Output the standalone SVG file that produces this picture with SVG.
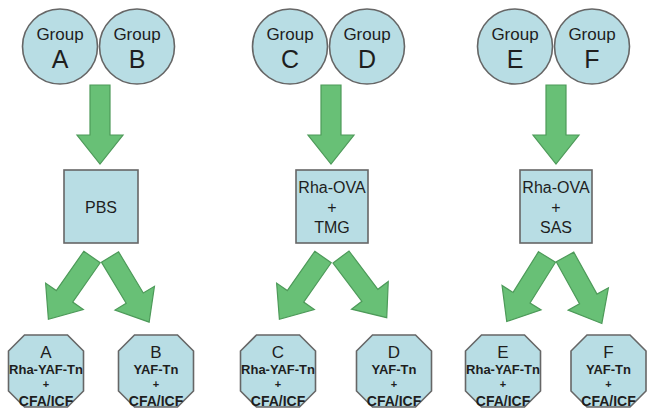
<svg xmlns="http://www.w3.org/2000/svg" xmlns:xlink="http://www.w3.org/1999/xlink" width="647" height="408" viewBox="0 0 647 408">
<style>
.n{fill:#b8dde4;stroke:#666;stroke-width:1.6}
.a{fill:#68c076;stroke:#4d9a59;stroke-width:1.2}
text{font-family:"Liberation Sans",Arial,sans-serif;fill:#1e1e1e;text-anchor:middle}
.g{font-size:17px}
.L{font-size:25px}
.b{font-size:16px}
.oL{font-size:17px}
.o{font-size:13px;font-weight:bold}
.c{font-size:14px;font-weight:bold}
.p{font-size:11px;font-weight:bold}
</style>
<defs>
<polygon id="varr" class="a" points="-10,0 10,0 10,50 23,50 0,79 -23,50 -10,50"/>
<polygon id="darr" class="a" points="-10,0 10,0 10,48 23,48 0,76 -23,48 -10,48"/>
<polygon id="oct" class="n" points="16,0 59,0 75,16 75,56 59,72 16,72 0,56 0,16"/>
</defs>
<rect width="647" height="408" fill="#fff"/>
<g id="connectors">
<use href="#varr" transform="translate(100,85)"/>
<use href="#varr" transform="translate(331,85)"/>
<use href="#varr" transform="translate(556,85)"/>
<use href="#darr" transform="translate(92,257) rotate(35)"/>
<use href="#darr" transform="translate(110,257) rotate(-31)"/>
<use href="#darr" transform="translate(323,257) rotate(35)"/>
<use href="#darr" transform="translate(341,257) rotate(-37)"/>
<use href="#darr" transform="translate(547,257) rotate(32)"/>
<use href="#darr" transform="translate(565,257) rotate(-29)"/>
</g>
<g id="groupA"><circle class="n" cx="60" cy="46.5" r="37.5"/><text class="g" x="60" y="40">Group</text><text class="L" x="60" y="68">A</text></g>
<g id="groupB"><circle class="n" cx="137" cy="46.5" r="37.5"/><text class="g" x="137" y="40">Group</text><text class="L" x="137" y="68">B</text></g>
<g id="groupC"><circle class="n" cx="290" cy="46.5" r="37.5"/><text class="g" x="290" y="40">Group</text><text class="L" x="290" y="68">C</text></g>
<g id="groupD"><circle class="n" cx="367" cy="46.5" r="37.5"/><text class="g" x="367" y="40">Group</text><text class="L" x="367" y="68">D</text></g>
<g id="groupE"><circle class="n" cx="515" cy="46.5" r="37.5"/><text class="g" x="515" y="40">Group</text><text class="L" x="515" y="68">E</text></g>
<g id="groupF"><circle class="n" cx="592" cy="46.5" r="37.5"/><text class="g" x="592" y="40">Group</text><text class="L" x="592" y="68">F</text></g>
<g id="pbs"><rect class="n" x="64" y="170" width="74" height="73"/><text class="b" x="101" y="213">PBS</text></g>
<g id="tmg"><rect class="n" x="296" y="170" width="72" height="73"/><text class="b" x="332" y="193">Rha-OVA</text><text class="b" x="332" y="213">+</text><text class="b" x="332" y="233">TMG</text></g>
<g id="sas"><rect class="n" x="520" y="170" width="72" height="73"/><text class="b" x="556" y="193">Rha-OVA</text><text class="b" x="556" y="213">+</text><text class="b" x="556" y="233">SAS</text></g>
<g id="outA"><use href="#oct" transform="translate(8.5,335)"/><text class="oL" x="46" y="358">A</text><text class="o" x="46" y="374">Rha-YAF-Tn</text><text class="p" x="46" y="388">+</text><text class="c" x="46" y="406">CFA/ICF</text></g>
<g id="outB"><use href="#oct" transform="translate(118.5,335)"/><text class="oL" x="156" y="358">B</text><text class="o" x="156" y="374">YAF-Tn</text><text class="p" x="156" y="388">+</text><text class="c" x="156" y="406">CFA/ICF</text></g>
<g id="outC"><use href="#oct" transform="translate(240.5,335)"/><text class="oL" x="278" y="358">C</text><text class="o" x="278" y="374">Rha-YAF-Tn</text><text class="p" x="278" y="388">+</text><text class="c" x="278" y="406">CFA/ICF</text></g>
<g id="outD"><use href="#oct" transform="translate(356.5,335)"/><text class="oL" x="394" y="358">D</text><text class="o" x="394" y="374">YAF-Tn</text><text class="p" x="394" y="388">+</text><text class="c" x="394" y="406">CFA/ICF</text></g>
<g id="outE"><use href="#oct" transform="translate(465.5,335)"/><text class="oL" x="503" y="358">E</text><text class="o" x="503" y="374">Rha-YAF-Tn</text><text class="p" x="503" y="388">+</text><text class="c" x="503" y="406">CFA/ICF</text></g>
<g id="outF"><use href="#oct" transform="translate(571,335)"/><text class="oL" x="608.5" y="358">F</text><text class="o" x="608.5" y="374">YAF-Tn</text><text class="p" x="608.5" y="388">+</text><text class="c" x="608.5" y="406">CFA/ICF</text></g>
</svg>
